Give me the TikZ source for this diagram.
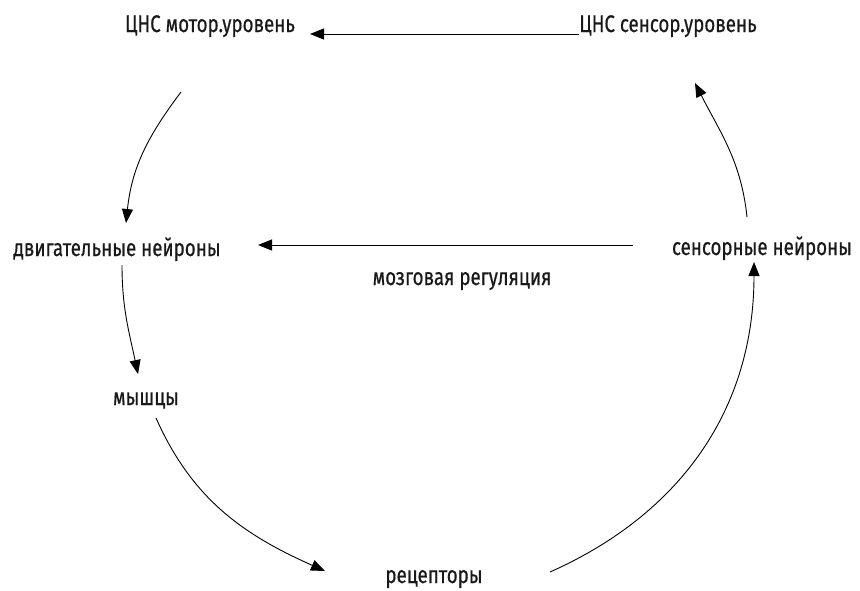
\documentclass[tikz,border=0pt]{standalone}
\usepackage{fontspec}
\setmainfont[FakeStretch=0.78,FakeBold=0.6]{Fira Sans}
\usetikzlibrary{arrows.meta}
\begin{document}
\begin{tikzpicture}[x=1pt,y=-1pt,
  lbl/.style={inner sep=0pt,anchor=base,font=\fontsize{24}{26}\selectfont,text=black!90},
  arr/.style={line width=0.9pt,-{Triangle[length=14pt,width=11pt]}}]
\useasboundingbox (0,0) rectangle (860,590);
\node[lbl] (cnsm) at (210,32) {ЦНС мотор.уровень};
\node[lbl] (cnss) at (668,32) {ЦНС сенсор.уровень};
\node[lbl] (dvn) at (117,256) {двигательные нейроны};
\node[lbl] (sen) at (762,255) {сенсорные нейроны};
\node[lbl] (mr) at (462,285) {мозговая регуляция};
\node[lbl] (my) at (146,405) {мышцы};
\node[lbl] (rec) at (434,583) {рецепторы};
% connector end points
\coordinate (t1) at (310,34);
\coordinate (c1s) at (181,92);
\coordinate (c1e) at (126,223);
\coordinate (c2s) at (122,265);
\coordinate (c2e) at (138,374);
\coordinate (c3s) at (156,418);
\coordinate (c3e) at (325,571);
\coordinate (c4s) at (550,572);
\coordinate (c4e) at (754,262);
\coordinate (c5s) at (747,217);
\coordinate (c5e) at (695,83);
\coordinate (m1) at (633,245);
\coordinate (m2) at (258,245);
\draw[arr] (cnss.base west) ++(0,2) -- (t1);
\draw[arr] (m1) -- (m2);
\draw[arr] (c1s) to[out=233,in=84] (c1e);
\draw[arr] (c2s) to[out=270,in=102] (c2e);
\draw[arr] (c3s) to[out=294,in=156] (c3e);
\draw[arr] (c4s) to[out=24,in=270] (c4e);
\draw[arr] (c5s) to[out=96,in=297] (c5e);
\end{tikzpicture}
\end{document}
